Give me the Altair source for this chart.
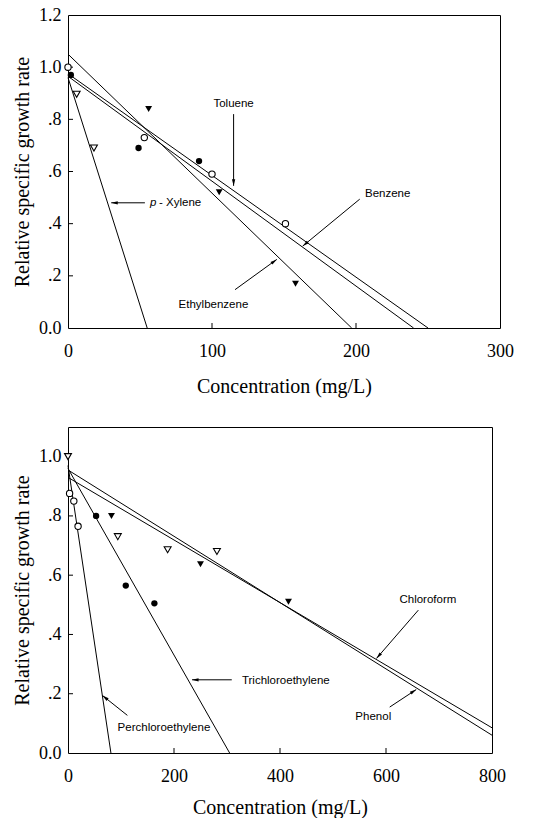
import math
import altair as alt
import pandas as pd

# ---------------- data: top panel (aromatic hydrocarbons) ----------------
top_open_circle_x = [0, 53, 100, 151]
top_open_circle_y = [1.0, 0.73, 0.59, 0.40]
top_filled_circle_x = [2, 49, 91]
top_filled_circle_y = [0.97, 0.69, 0.64]
top_filled_tri_x = [56, 105, 158]
top_filled_tri_y = [0.84, 0.52, 0.17]
top_open_tri_x = [6, 18]
top_open_tri_y = [0.896, 0.69]

top_line_names = ["Ethylbenzene", "Toluene", "Benzene", "p-Xylene"]
top_line_y0 = [1.05, 0.975, 0.965, 0.96]
top_line_xint = [197, 250, 240, 55]

top_label_text = ["Toluene", "Benzene", "Ethylbenzene"]
top_label_x = [115, 222, 101]
top_label_y = [0.858, 0.513, 0.09]
top_xyl_x = [57]
top_xyl_y = [0.478]

top_arrow_x0 = [115, 202.6, 53.4, 116]
top_arrow_y0 = [0.82, 0.494, 0.48, 0.147]
top_arrow_x1 = [115, 163, 30, 145]
top_arrow_y1 = [0.545, 0.314, 0.48, 0.263]

top_xticks = [0, 100, 200, 300]
top_yticks = [0, 0.2, 0.4, 0.6, 0.8, 1.0, 1.2]

# ---------------- data: bottom panel (chlorinated compounds, phenol) -----
bot_open_circle_x = [3, 11, 19]
bot_open_circle_y = [0.876, 0.85, 0.765]
bot_filled_circle_x = [53, 109, 163]
bot_filled_circle_y = [0.80, 0.565, 0.505]
bot_filled_tri_x = [82, 250, 416]
bot_filled_tri_y = [0.80, 0.637, 0.51]
bot_open_tri_x = [0, 94, 188, 281]
bot_open_tri_y = [1.0, 0.73, 0.686, 0.68]

bot_line_names = ["Perchloroethylene", "Trichloroethylene", "Phenol", "Chloroform"]
bot_line_x0 = [0, 0, 0, 0]
bot_line_y0 = [0.97, 0.96, 0.955, 0.93]
bot_line_x1 = [81, 305, 800, 800]
bot_line_y1 = [0, 0, 0.06, 0.085]

bot_label_text = ["Chloroform", "Phenol", "Trichloroethylene", "Perchloroethylene"]
bot_label_x = [679, 576, 411, 181]
bot_label_y = [0.516, 0.123, 0.243, 0.085]

bot_arrow_x0 = [661, 607, 309, 112]
bot_arrow_y0 = [0.482, 0.155, 0.247, 0.127]
bot_arrow_x1 = [582, 657, 234, 65]
bot_arrow_y1 = [0.319, 0.214, 0.247, 0.194]

bot_xticks = [0, 200, 400, 600, 800]
bot_yticks = [0, 0.2, 0.4, 0.6, 0.8, 1.0]

SERIF = "'Liberation Serif', 'Times New Roman', 'DejaVu Serif', serif"
SANS = "'Liberation Sans', Arial, sans-serif"
ARROW = "M0,0L-0.6,2.4L0.6,2.4Z"

label_expr = ("datum.value == 0 ? '0.0' : (datum.value >= 1 ? format(datum.value, '.1f') : "
              "replace(format(datum.value, '.1f'), '0.', '.'))")


def panel(pts, lx0, ly0, lx1, ly1, labels, ax0, ay0, ax1, ay1,
          xdom, ydom, xticks, yticks, w, h, extra_labels=None, xtitle_pad=16):
    sx = w / (xdom[1] - xdom[0])
    sy = h / (ydom[1] - ydom[0])
    xs = alt.Scale(domain=xdom, nice=False, zero=False)
    ys = alt.Scale(domain=ydom, nice=False, zero=False)
    xaxis = alt.Axis(values=xticks, format="d", ticks=False, domain=False, grid=False,
                     labelPadding=14, titlePadding=xtitle_pad, labelFlush=False)
    yaxis = alt.Axis(values=yticks, labelExpr=label_expr, ticks=False, domain=False,
                     grid=False, labelPadding=7, titlePadding=6)
    X = lambda f: alt.X(f, type="quantitative", scale=xs, axis=xaxis,
                        title="Concentration (mg/L)")
    Y = lambda f: alt.Y(f, type="quantitative", scale=ys, axis=yaxis,
                        title="Relative specific growth rate")

    layers = []
    # fitted lines
    ldf = pd.DataFrame({"x": lx0, "y": ly0, "x2": lx1, "y2": ly1})
    layers.append(alt.Chart(ldf).mark_rule(color="black", strokeWidth=1).encode(
        x=X("x"), y=Y("y"), x2="x2", y2="y2"))
    # inward ticks
    xt = pd.DataFrame({"x": [t for t in xticks[1:-1]]})
    layers.append(alt.Chart(xt).mark_rule(color="black", strokeWidth=1).encode(
        x=X("x"), y=alt.value(h), y2=alt.value(h - 5)))
    yt = pd.DataFrame({"y": [t for t in yticks[1:-1]]})
    layers.append(alt.Chart(yt).mark_rule(color="black", strokeWidth=1).encode(
        y=Y("y"), x=alt.value(0), x2=alt.value(5)))
    # arrows
    adf = pd.DataFrame({"x": ax0, "y": ay0, "x2": ax1, "y2": ay1})
    adf["angle"] = [
        math.degrees(math.atan2((b - a) * sx, (d - c) * sy)) % 360
        for a, b, c, d in zip(ax0, ax1, ay0, ay1)
    ]
    layers.append(alt.Chart(adf).mark_rule(color="black", strokeWidth=1).encode(
        x=X("x"), y=Y("y"), x2="x2", y2="y2"))
    layers.append(alt.Chart(adf).mark_point(shape=ARROW, filled=True, color="black",
                                            size=30, opacity=1).encode(
        x=X("x2"), y=Y("y2"), angle=alt.Angle("angle:Q", scale=None)))
    # points
    for (px, py, shape, filled) in pts:
        pdf = pd.DataFrame({"x": px, "y": py})
        sz = 40 if shape == "circle" else 48
        if filled:
            m = alt.Chart(pdf).mark_point(shape=shape, filled=True, color="black",
                                          size=sz, opacity=1)
        else:
            m = alt.Chart(pdf).mark_point(shape=shape, filled=True, fill="white",
                                          stroke="black", strokeWidth=1.1,
                                          size=sz, opacity=1)
        layers.append(m.encode(x=X("x"), y=Y("y")))
    # labels
    tdf = pd.DataFrame({"x": labels[1], "y": labels[2], "t": labels[0]})
    layers.append(alt.Chart(tdf).mark_text(font=SANS, fontSize=11.5, color="black").encode(
        x=X("x"), y=Y("y"), text="t"))
    if extra_labels is not None:
        ex, ey = extra_labels
        e1 = pd.DataFrame({"x": ex, "y": ey, "t": ["p"]})
        e2 = pd.DataFrame({"x": ex, "y": ey, "t": ["- Xylene"]})
        layers.append(alt.Chart(e1).mark_text(font=SANS, fontSize=11.5, fontStyle="italic",
                                              align="left", color="black").encode(
            x=X("x"), y=Y("y"), text="t"))
        layers.append(alt.Chart(e2).mark_text(font=SANS, fontSize=11.5, align="left",
                                              dx=9, color="black").encode(
            x=X("x"), y=Y("y"), text="t"))
    return alt.layer(*layers).properties(width=w, height=h)


top_pts = [
    (top_open_circle_x, top_open_circle_y, "circle", False),
    (top_filled_circle_x, top_filled_circle_y, "circle", True),
    (top_filled_tri_x, top_filled_tri_y, "triangle-down", True),
    (top_open_tri_x, top_open_tri_y, "triangle-down", False),
]
bot_pts = [
    (bot_open_circle_x, bot_open_circle_y, "circle", False),
    (bot_filled_circle_x, bot_filled_circle_y, "circle", True),
    (bot_filled_tri_x, bot_filled_tri_y, "triangle-down", True),
    (bot_open_tri_x, bot_open_tri_y, "triangle-down", False),
]

top = panel(top_pts, [0] * 4, top_line_y0, top_line_xint, [0] * 4,
            (top_label_text, top_label_x, top_label_y),
            top_arrow_x0, top_arrow_y0, top_arrow_x1, top_arrow_y1,
            [0, 300], [0, 1.2], top_xticks, top_yticks, 432, 313,
            extra_labels=(top_xyl_x, top_xyl_y))
bot = panel(bot_pts, bot_line_x0, bot_line_y0, bot_line_x1, bot_line_y1,
            (bot_label_text, bot_label_x, bot_label_y),
            bot_arrow_x0, bot_arrow_y0, bot_arrow_x1, bot_arrow_y1,
            [0, 800], [0, 1.1], bot_xticks, bot_yticks, 424, 326, xtitle_pad=12)

chart = alt.vconcat(top, bot, spacing=29).properties(
    padding={"left": 12, "top": 5, "right": 5, "bottom": 0},
    background="white",
).configure_view(stroke="black", strokeWidth=1).configure_axis(
    labelFont=SERIF, labelFontSize=18, labelColor="black",
    titleFont=SERIF, titleFontSize=20, titleFontWeight="normal", titleColor="black",
)

chart.save("out.html", embed_options={"renderer": "svg", "actions": False})
